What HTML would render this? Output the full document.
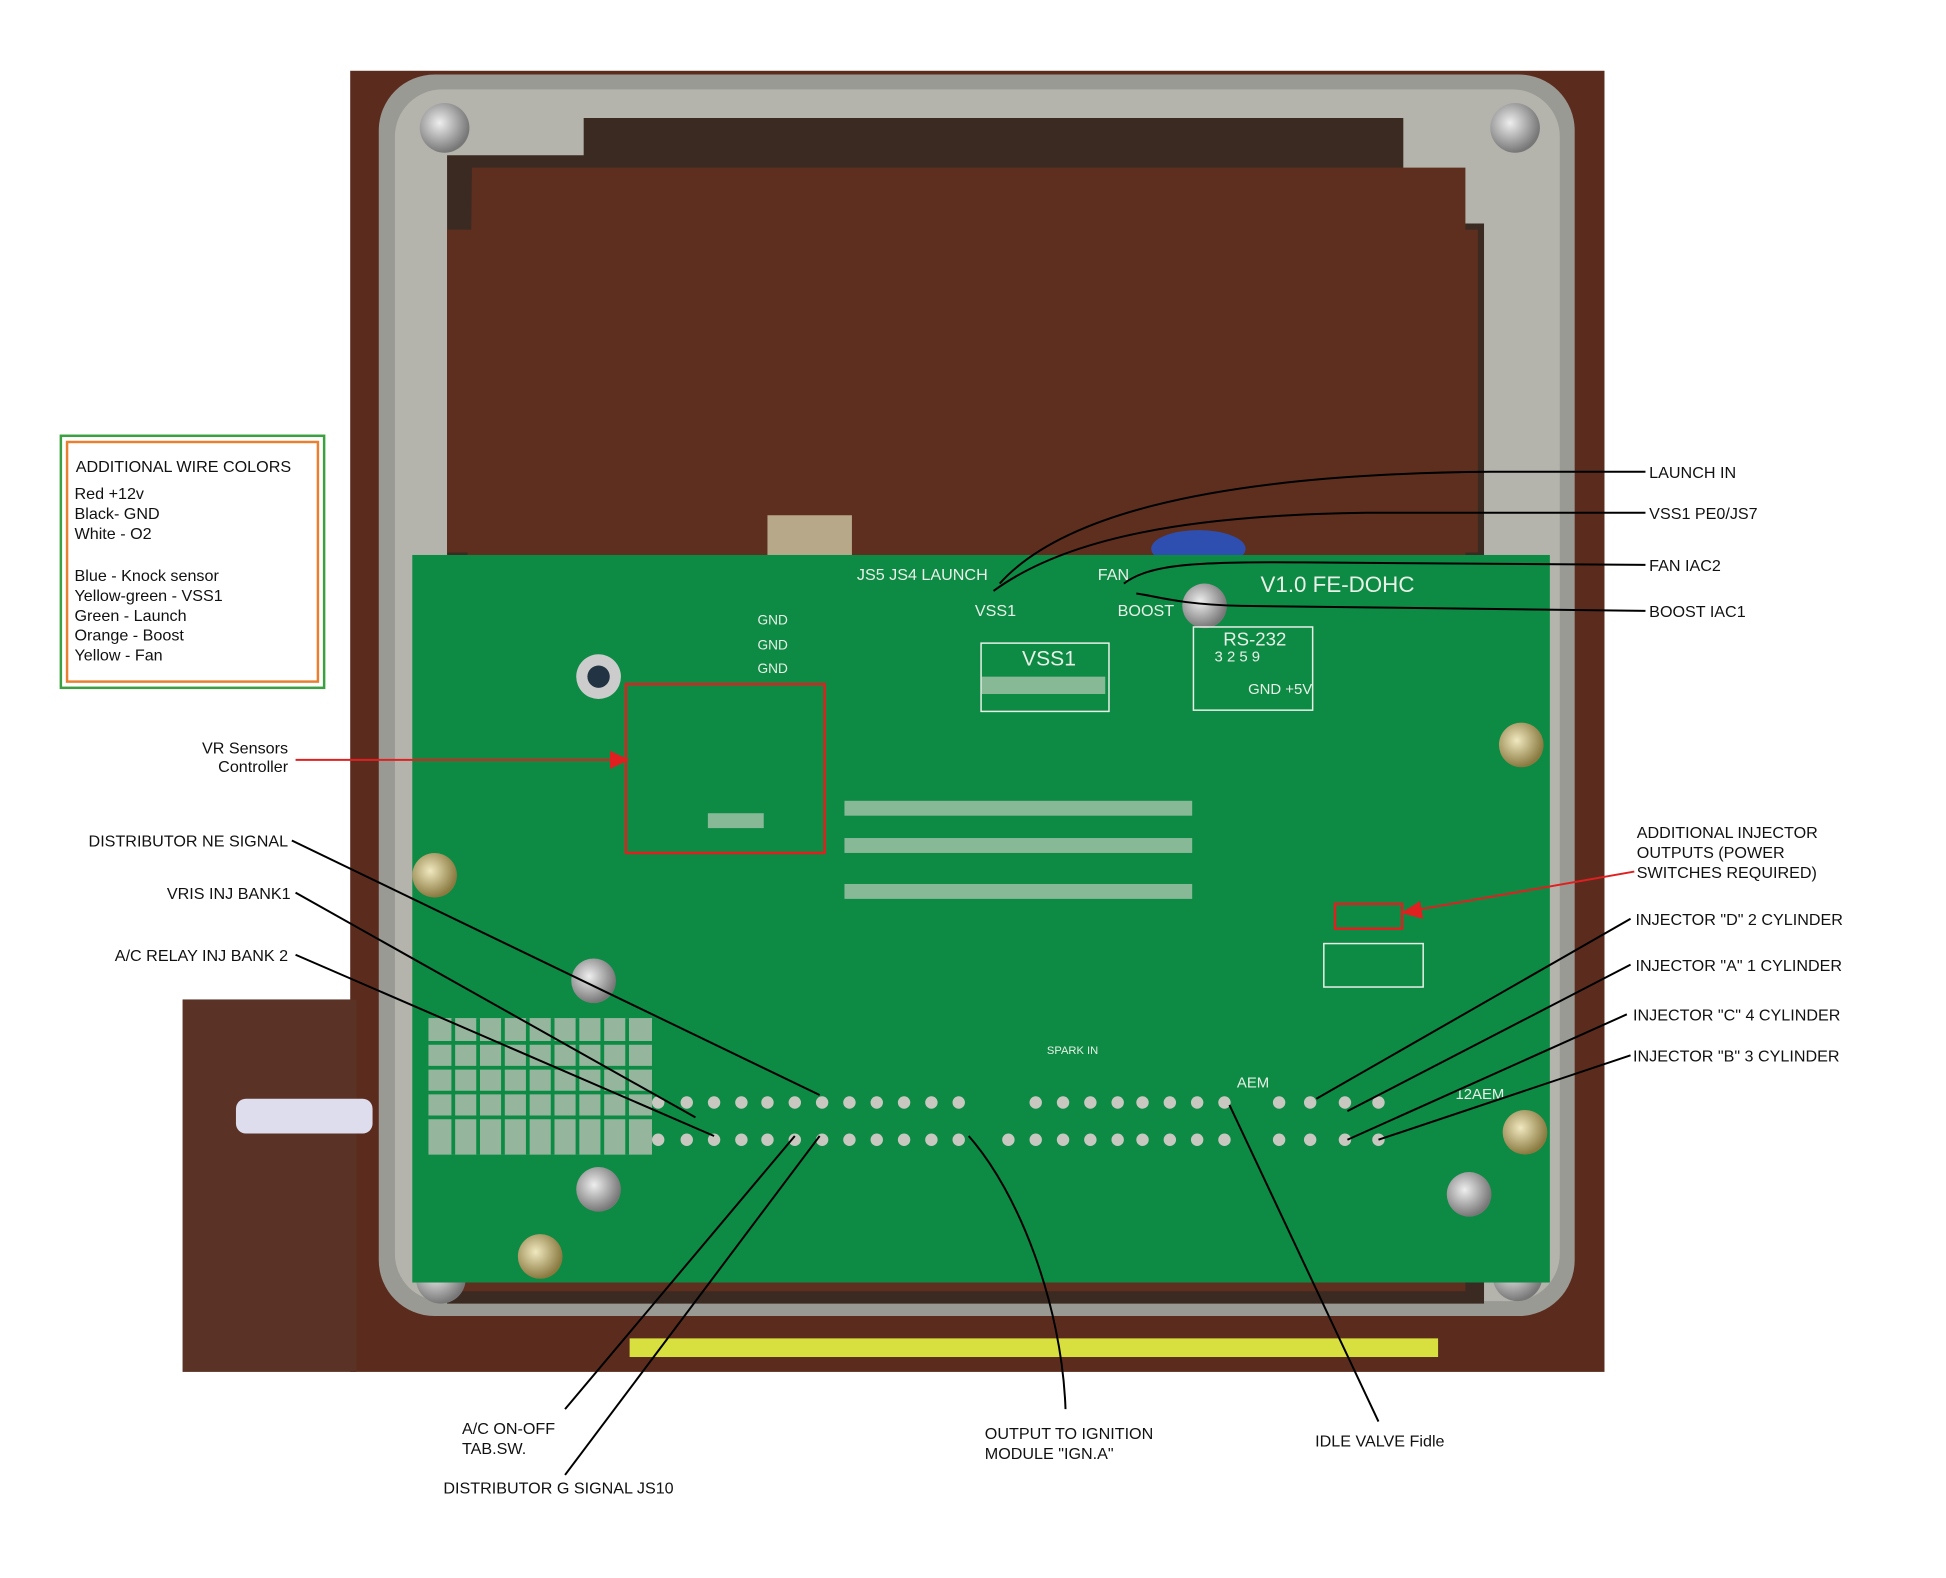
<!DOCTYPE html>
<html><head><meta charset="utf-8"><style>
html,body{margin:0;padding:0;background:#fff;}
svg{display:block;}
text{font-family:"Liberation Sans",sans-serif;}
</style></head><body>
<svg width="1946" height="1578" viewBox="0 0 1567 1271" preserveAspectRatio="none" xmlns="http://www.w3.org/2000/svg">
<defs>
<radialGradient id="scr" cx="0.4" cy="0.4" r="0.6"><stop offset="0" stop-color="#f0e8c0"/><stop offset="1" stop-color="#8a7a40"/></radialGradient>
<radialGradient id="scr2" cx="0.4" cy="0.4" r="0.6"><stop offset="0" stop-color="#eee"/><stop offset="1" stop-color="#777"/></radialGradient>
</defs>
<rect width="1567" height="1271" fill="#fff"/>
<rect x="282" y="57" width="1010" height="1048" fill="#5b2c1e"/>
<rect x="147" y="805" width="140" height="300" fill="#5a3226"/>
<rect x="305" y="60" width="963" height="1000" rx="45" fill="#9a9a94"/>
<rect x="318" y="72" width="938" height="976" rx="38" fill="#b4b4ac"/>
<path d="M360 125 L470 125 L470 95 L1130 95 L1130 180 L1195 180 L1195 1050 L360 1050 Z" fill="#3a2a22"/>
<path d="M380 135 L1180 135 L1180 1040 L370 1040 Z" fill="#5e2f1f"/>
<rect x="360" y="185" width="830" height="260" fill="#5e2f1f"/>
<rect x="507" y="1078" width="651" height="15" fill="#d8e040"/>
<rect x="190" y="885" width="110" height="28" rx="8" fill="#dde"/>
<rect x="618" y="415" width="68" height="35" fill="#b8a88a"/>
<ellipse cx="965" cy="442" rx="38" ry="15" fill="#2e4fb0"/>
<circle cx="358" cy="103" r="20" fill="url(#scr2)"/><circle cx="1220" cy="103" r="20" fill="url(#scr2)"/>
<circle cx="355" cy="1030" r="20" fill="url(#scr2)"/><circle cx="1222" cy="1028" r="20" fill="url(#scr2)"/>
<rect x="332" y="447" width="916" height="586" fill="#0d8a43"/>
<rect x="345" y="820" width="180" height="110" fill="#b8c0b4" opacity="0.8"/>
<g stroke="#0d8a43" stroke-width="3"><line x1="345" y1="840" x2="525" y2="840"/><line x1="345" y1="860" x2="525" y2="860"/><line x1="345" y1="880" x2="525" y2="880"/><line x1="345" y1="900" x2="525" y2="900"/><line x1="365" y1="820" x2="365" y2="930"/><line x1="385" y1="820" x2="385" y2="930"/><line x1="405" y1="820" x2="405" y2="930"/><line x1="425" y1="820" x2="425" y2="930"/><line x1="445" y1="820" x2="445" y2="930"/><line x1="465" y1="820" x2="465" y2="930"/><line x1="485" y1="820" x2="485" y2="930"/><line x1="505" y1="820" x2="505" y2="930"/></g>
<circle cx="970" cy="488" r="18" fill="url(#scr2)"/>
<circle cx="482" cy="545" r="18" fill="#ccc"/><circle cx="482" cy="545" r="9" fill="#234"/>
<circle cx="1225" cy="600" r="18" fill="url(#scr)"/><circle cx="350" cy="705" r="18" fill="url(#scr)"/>
<circle cx="478" cy="790" r="18" fill="url(#scr2)"/><circle cx="482" cy="958" r="18" fill="url(#scr2)"/>
<circle cx="1183" cy="962" r="18" fill="url(#scr2)"/><circle cx="1228" cy="912" r="18" fill="url(#scr)"/>
<circle cx="435" cy="1012" r="18" fill="url(#scr)"/>
<g fill="none" stroke="#e8f0e8" stroke-width="1.2">
<rect x="790" y="518" width="103" height="55"/><rect x="961" y="505" width="96" height="67"/>
<rect x="1066" y="760" width="80" height="35"/>
</g>
<g fill="#e8f0e8" font-size="15"><text x="1015" y="477" font-size="18">V1.0  FE-DOHC</text><text x="823" y="536" font-size="17">VSS1</text><text x="985" y="520">RS-232</text><text x="690" y="467" font-size="13">JS5 JS4 LAUNCH</text><text x="884" y="467" font-size="13">FAN</text><text x="785" y="496" font-size="13">VSS1</text><text x="900" y="496" font-size="13">BOOST</text><text x="610" y="503" font-size="11">GND</text><text x="610" y="523" font-size="11">GND</text><text x="610" y="542" font-size="11">GND</text><text x="978" y="533" font-size="12">3  2  5  9</text><text x="1005" y="559" font-size="12">GND +5V</text><text x="996" y="876" font-size="12">AEM</text><text x="1172" y="885" font-size="12">12AEM</text><text x="843" y="849" font-size="9">SPARK IN</text></g>
<g fill="#d8d8d0">
<rect x="680" y="645" width="280" height="12" opacity=".6"/><rect x="680" y="675" width="280" height="12" opacity=".6"/><rect x="680" y="712" width="280" height="12" opacity=".6"/>
<rect x="790" y="545" width="100" height="14" opacity=".6"/><rect x="570" y="655" width="45" height="12" opacity=".6"/>
</g>
<g fill="#c8c8c0">
<circle cx="530" cy="918" r="5"/><circle cx="553" cy="918" r="5"/><circle cx="575" cy="918" r="5"/><circle cx="597" cy="918" r="5"/><circle cx="618" cy="918" r="5"/><circle cx="640" cy="918" r="5"/><circle cx="662" cy="918" r="5"/><circle cx="684" cy="918" r="5"/><circle cx="706" cy="918" r="5"/><circle cx="728" cy="918" r="5"/><circle cx="750" cy="918" r="5"/><circle cx="772" cy="918" r="5"/><circle cx="812" cy="918" r="5"/><circle cx="834" cy="918" r="5"/><circle cx="856" cy="918" r="5"/><circle cx="878" cy="918" r="5"/><circle cx="900" cy="918" r="5"/><circle cx="920" cy="918" r="5"/><circle cx="942" cy="918" r="5"/><circle cx="964" cy="918" r="5"/><circle cx="986" cy="918" r="5"/><circle cx="1030" cy="918" r="5"/><circle cx="1055" cy="918" r="5"/><circle cx="1083" cy="918" r="5"/><circle cx="1110" cy="918" r="5"/>
<circle cx="530" cy="888" r="5"/><circle cx="553" cy="888" r="5"/><circle cx="575" cy="888" r="5"/><circle cx="597" cy="888" r="5"/><circle cx="618" cy="888" r="5"/><circle cx="640" cy="888" r="5"/><circle cx="662" cy="888" r="5"/><circle cx="684" cy="888" r="5"/><circle cx="706" cy="888" r="5"/><circle cx="728" cy="888" r="5"/><circle cx="750" cy="888" r="5"/><circle cx="772" cy="888" r="5"/><circle cx="834" cy="888" r="5"/><circle cx="856" cy="888" r="5"/><circle cx="878" cy="888" r="5"/><circle cx="900" cy="888" r="5"/><circle cx="920" cy="888" r="5"/><circle cx="942" cy="888" r="5"/><circle cx="964" cy="888" r="5"/><circle cx="986" cy="888" r="5"/><circle cx="1030" cy="888" r="5"/><circle cx="1055" cy="888" r="5"/><circle cx="1083" cy="888" r="5"/><circle cx="1110" cy="888" r="5"/>
</g>
<rect x="504" y="551" width="160" height="136" fill="none" stroke="#e02020" stroke-width="2"/>
<rect x="1075" y="728" width="54" height="20" fill="none" stroke="#e02020" stroke-width="2"/>
<rect x="49" y="351" width="212" height="203" fill="#fff" stroke="#3aa040" stroke-width="2"/>
<rect x="54" y="356" width="202" height="193" fill="none" stroke="#e88030" stroke-width="2"/>
<g font-size="13" fill="#111">
<text x="61" y="380">ADDITIONAL WIRE COLORS</text>
<text x="60" y="402">Red +12v</text><text x="60" y="418">Black- GND</text><text x="60" y="434">White - O2</text>
<text x="60" y="468">Blue - Knock sensor</text><text x="60" y="484">Yellow-green - VSS1</text><text x="60" y="500">Green - Launch</text><text x="60" y="516">Orange - Boost</text><text x="60" y="532">Yellow - Fan</text>
</g>
<g fill="none" stroke="#000" stroke-width="1.6">
<path d="M1325 380 L1200 380 C960 382 850 420 805 470"/>
<path d="M1325 413 L1100 413 C960 415 860 432 800 476"/>
<path d="M1325 455 L1050 453 C960 452 925 455 905 470"/>
<path d="M1325 492 L1000 488 C950 487 930 480 915 478"/>
<path d="M235 677 L660 882"/>
<path d="M238 719 L560 900"/>
<path d="M238 769 L575 915"/>
<path d="M1313 740 L1060 885"/>
<path d="M1313 777 L1085 895"/>
<path d="M1310 817 L1085 918"/>
<path d="M1313 850 L1110 918"/>
<path d="M455 1135 L640 915"/>
<path d="M455 1188 L660 915"/>
<path d="M858 1135 C855 1050 820 960 780 915"/>
<path d="M1110 1145 L990 890"/>
</g>
<g stroke="#e02020" stroke-width="1.6" fill="#e02020">
<line x1="238" y1="612" x2="495" y2="612"/><path d="M505 612 L492 606 L492 618 Z"/>
<line x1="1316" y1="702" x2="1140" y2="733"/><path d="M1130 735 L1143 727 L1145 739 Z"/>
</g>
<g font-size="13" fill="#111">
<text x="1328" y="385">LAUNCH IN</text><text x="1328" y="418">VSS1 PE0/JS7</text><text x="1328" y="460">FAN IAC2</text><text x="1328" y="497">BOOST IAC1</text>
<text x="232" y="607" text-anchor="end">VR Sensors</text><text x="232" y="622" text-anchor="end">Controller</text>
<text x="232" y="682" text-anchor="end">DISTRIBUTOR NE SIGNAL</text>
<text x="234" y="724" text-anchor="end">VRIS INJ BANK1</text>
<text x="232" y="774" text-anchor="end">A/C RELAY INJ BANK 2</text>
<text x="1318" y="675">ADDITIONAL INJECTOR</text><text x="1318" y="691">OUTPUTS (POWER</text><text x="1318" y="707">SWITCHES REQUIRED)</text>
<text x="1317" y="745">INJECTOR "D" 2 CYLINDER</text><text x="1317" y="782">INJECTOR "A" 1 CYLINDER</text>
<text x="1315" y="822">INJECTOR "C" 4 CYLINDER</text><text x="1315" y="855">INJECTOR "B" 3 CYLINDER</text>
<text x="372" y="1155">A/C ON-OFF</text><text x="372" y="1171">TAB.SW.</text>
<text x="357" y="1203">DISTRIBUTOR G SIGNAL JS10</text>
<text x="793" y="1159">OUTPUT TO IGNITION</text><text x="793" y="1175">MODULE "IGN.A"</text>
<text x="1059" y="1165">IDLE VALVE Fidle</text>
</g>
</svg>
</body></html>
